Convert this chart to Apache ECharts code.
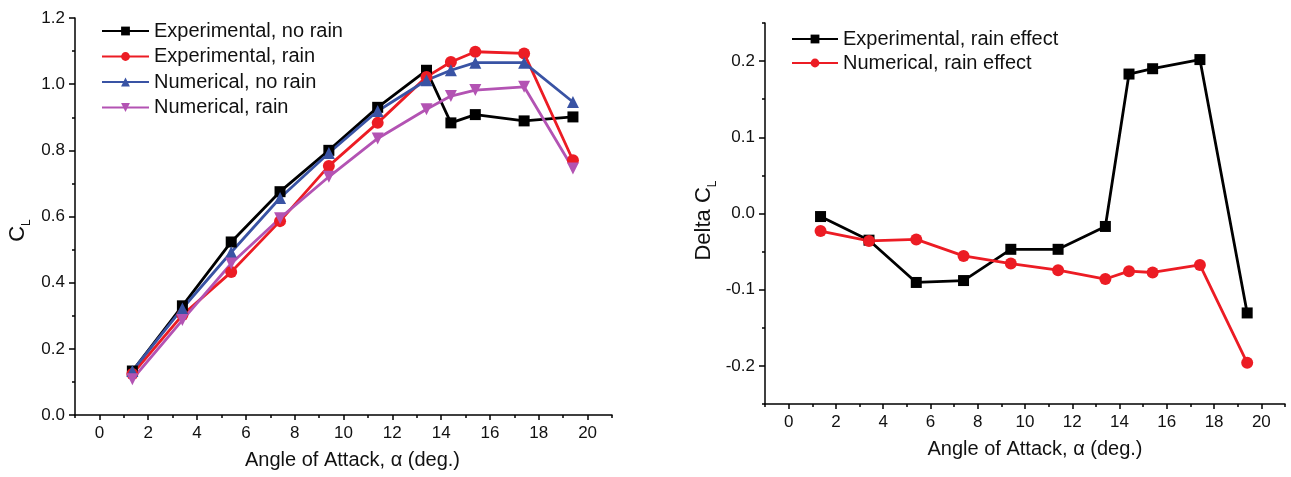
<!DOCTYPE html>
<html>
<head>
<meta charset="utf-8">
<title>Lift coefficient, rain effect</title>
<script src="https://cdn.jsdelivr.net/npm/echarts@6/dist/echarts.min.js"></script>
<style>
  html, body { margin: 0; padding: 0; background: #fff; }
  #chart { width: 1291px; height: 477px; }
</style>
</head>
<body>
<div id="chart"></div>
<script>
  // angles of attack (deg.)
  const angles = [1.35, 3.4, 5.4, 7.4, 9.4, 11.4, 13.4, 14.4, 15.4, 17.4, 19.4];

  // left panel: lift coefficient
  const expNoRain = [0.133, 0.33, 0.523, 0.675, 0.8, 0.93, 1.042, 0.883, 0.908, 0.889, 0.901];
  const expRain = [0.124, 0.302, 0.432, 0.586, 0.753, 0.883, 1.022, 1.067, 1.098, 1.093, 0.77];
  const numNoRain = [0.133, 0.322, 0.492, 0.656, 0.792, 0.919, 1.012, 1.042, 1.065, 1.065, 0.946];
  const numRain = [0.108, 0.287, 0.458, 0.595, 0.72, 0.836, 0.924, 0.964, 0.982, 0.992, 0.745];

  // right panel: delta CL
  const expEffect = [-0.004, -0.035, -0.0905, -0.088, -0.047, -0.047, -0.017, 0.183, 0.19, 0.202, -0.1305];
  const numEffect = [-0.023, -0.036, -0.034, -0.0557, -0.0657, -0.0744, -0.086, -0.0757, -0.0774, -0.0675, -0.196];

  // tick labels
  const xMajor = [0, 2, 4, 6, 8, 10, 12, 14, 16, 18, 20];
  const xMinor = [-1, 1, 3, 5, 7, 9, 11, 13, 15, 17, 19, 21];
  const dMajor = [-0.2, -0.1, 0, 0.1, 0.2];
  const dMinor = [-0.25, -0.15, -0.05, 0.05, 0.15, 0.25];

  const FONT = 'Arial, "Liberation Sans", sans-serif';
  const AXIS_COLOR = '#000';
  const downTri = 'path://M0,0 L10,0 L5,9 Z';

  const pairs = (ys) => ys.map((y, i) => [angles[i], y]);

  const line = (name, ys, color, symbol, size, xi, yi) => ({
    name,
    type: 'line',
    xAxisIndex: xi,
    yAxisIndex: yi,
    data: pairs(ys),
    symbol,
    symbolSize: size,
    showSymbol: true,
    lineStyle: { width: 2.8, color },
    itemStyle: { color },
    z: 3,
  });

  // rotated y name with subscript L
  const subName = (prefix, shift) => ({
    name: prefix + '{s|L}',
    nameTextStyle: {
      fontFamily: FONT,
      color: '#111',
      padding: [0, shift, 0, 0],
      rich: {
        c: { fontSize: 22, fontFamily: FONT, color: '#111', lineHeight: 30 },
        s: { fontSize: 12, fontFamily: FONT, color: '#111', verticalAlign: 'bottom' },
      },
    },
  });

  const xMain = (gridIndex, shift) => ({
    type: 'value',
    gridIndex,
    min: -1,
    max: 21,
    position: 'bottom',
    name: 'Angle of Attack, α (deg.)',
    nameLocation: 'middle',
    nameGap: 35,
    nameTextStyle: { fontSize: 20, fontFamily: FONT, color: '#111', padding: [0, 0, 0, shift] },
    axisLine: { show: true, onZero: false, lineStyle: { color: AXIS_COLOR, width: 1.5 } },
    axisTick: { show: true, length: 5, customValues: xMajor, lineStyle: { color: AXIS_COLOR, width: 1.5 } },
    axisLabel: { fontSize: 17, fontFamily: FONT, color: '#111', margin: 10, customValues: xMajor },
    splitLine: { show: false },
  });

  const xMinorAxis = (gridIndex) => ({
    type: 'value',
    gridIndex,
    min: -1,
    max: 21,
    position: 'bottom',
    offset: 0,
    axisLine: { show: false, onZero: false },
    axisTick: { show: true, length: 3, customValues: xMinor, lineStyle: { color: AXIS_COLOR, width: 1.5 } },
    axisLabel: { show: false },
    splitLine: { show: false },
  });

  const chart = echarts.init(document.getElementById('chart'));

  const option = {
    backgroundColor: '#fff',
    animation: false,
    grid: [
      { left: 75, top: 18, width: 537, height: 397 },
      { left: 765, top: 23, width: 520, height: 381 },
    ],
    legend: [
      {
        data: ['Experimental, no rain', 'Experimental, rain', 'Numerical, no rain', 'Numerical, rain'],
        orient: 'vertical',
        left: 96,
        top: 16,
        itemWidth: 47,
        itemHeight: 11,
        itemGap: 5.5,
        textStyle: { fontSize: 20, fontFamily: FONT, color: '#111' },
      },
      {
        data: ['Experimental, rain effect', 'Numerical, rain effect'],
        orient: 'vertical',
        left: 786,
        top: 24,
        itemWidth: 46,
        itemHeight: 11,
        itemGap: 4,
        textStyle: { fontSize: 20, fontFamily: FONT, color: '#111' },
      },
    ],
    xAxis: [xMain(0, 18), xMinorAxis(0), xMain(1, 20), xMinorAxis(1)],
    yAxis: [
      Object.assign({
        type: 'value',
        gridIndex: 0,
        min: 0,
        max: 1.2,
        interval: 0.2,
        nameLocation: 'middle',
        nameGap: 42,
        nameRotate: 90,
        axisLine: { show: true, onZero: false, lineStyle: { color: AXIS_COLOR, width: 1.5 } },
        axisTick: { show: true, length: 6, lineStyle: { color: AXIS_COLOR, width: 1.5 } },
        minorTick: { show: true, splitNumber: 2, length: 3, lineStyle: { color: AXIS_COLOR, width: 1.5 } },
        axisLabel: {
          fontSize: 17, fontFamily: FONT, color: '#111', margin: 10,
          formatter: (v) => v.toFixed(1),
        },
        splitLine: { show: false },
      }, subName('{c|C}', 28)),
      Object.assign({
        type: 'value',
        gridIndex: 1,
        min: -0.25,
        max: 0.25,
        position: 'left',
        nameLocation: 'middle',
        nameGap: 46,
        nameRotate: 90,
        axisLine: { show: true, onZero: false, lineStyle: { color: AXIS_COLOR, width: 1.5 } },
        axisTick: { show: true, length: 6, customValues: dMajor, lineStyle: { color: AXIS_COLOR, width: 1.5 } },
        axisLabel: {
          fontSize: 17, fontFamily: FONT, color: '#111', margin: 10, customValues: dMajor,
          formatter: (v) => (Math.abs(v) < 1e-9 ? '0.0' : v.toFixed(1)),
        },
        splitLine: { show: false },
      }, subName('{c|Delta C}', 14)),
      {
        type: 'value',
        gridIndex: 1,
        min: -0.25,
        max: 0.25,
        position: 'left',
        offset: 0,
        axisLine: { show: false, onZero: false },
        axisTick: { show: true, length: 3, customValues: dMinor, lineStyle: { color: AXIS_COLOR, width: 1.5 } },
        axisLabel: { show: false },
        splitLine: { show: false },
      },
    ],
    series: [
      line('Experimental, no rain', expNoRain, '#000000', 'rect', 11, 0, 0),
      line('Experimental, rain', expRain, '#ec1c24', 'circle', 12, 0, 0),
      line('Numerical, no rain', numNoRain, '#3953a4', 'triangle', 12, 0, 0),
      line('Numerical, rain', numRain, '#b353b3', downTri, 12, 0, 0),
      line('Experimental, rain effect', expEffect, '#000000', 'rect', 11, 2, 1),
      line('Numerical, rain effect', numEffect, '#ec1c24', 'circle', 12, 2, 1),
    ],
  };

  chart.setOption(option);
</script>
</body>
</html>
